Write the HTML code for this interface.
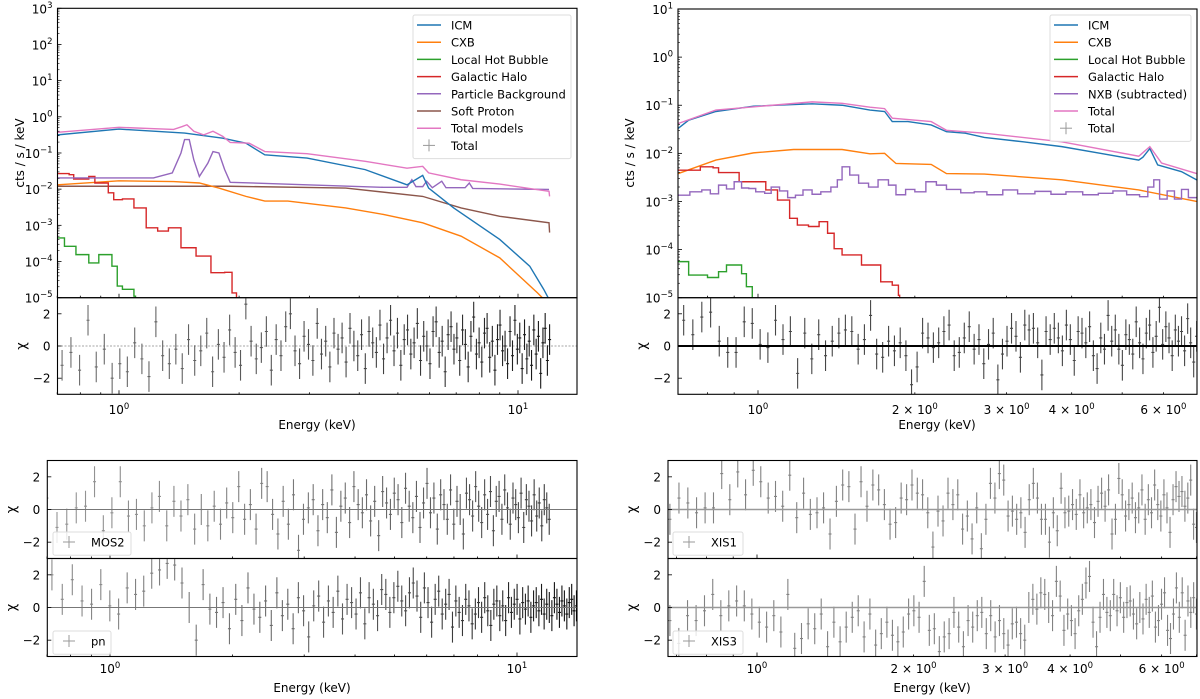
<!DOCTYPE html>
<html><head><meta charset="utf-8">
<style>
html,body{margin:0;padding:0;background:#fff;}
svg{display:block;font-family:"DejaVu Sans","Liberation Sans",sans-serif;}
</style></head>
<body>
<svg id="chart" width="1200" height="699" viewBox="0 0 1200 699" xmlns="http://www.w3.org/2000/svg"></svg>
<script>
// ===== DATA: top-left (XMM) model components: energies (keV) and log10 flux =====
const tlIcmE = [0.70,1.0,1.46,1.82,2.08,2.32,2.96,4.14,5.27,5.77,5.97,6.9,9.0,10.7,11.6,11.9];
const tlIcmL = [-0.50,-0.34,-0.45,-0.59,-0.73,-1.05,-1.14,-1.46,-1.88,-1.62,-1.97,-2.52,-3.39,-4.13,-4.77,-5.0];
const tlCxbE = [0.70,1.0,1.37,1.59,1.78,2.08,2.32,2.65,3.7,4.6,5.77,7.2,9.0,11.2,11.5];
const tlCxbL = [-1.88,-1.77,-1.79,-1.83,-1.97,-2.2,-2.33,-2.33,-2.52,-2.70,-2.93,-3.30,-3.9,-4.87,-5.0];
const tlLhbE = [0.70,0.73,0.78,0.84,0.89,0.93,0.96,0.99,1.02,1.09,1.10];
const tlLhbL = [-3.35,-3.58,-3.81,-4.04,-3.81,-3.81,-4.13,-4.68,-4.77,-4.96,-5.0];
const tlHaloE = [0.70,0.75,0.77,0.84,0.87,0.94,0.97,1.02,1.09,1.17,1.25,1.33,1.43,1.56,1.70,1.84,1.92,1.97];
const tlHaloL = [-1.57,-1.60,-1.72,-1.65,-1.83,-2.10,-2.29,-2.27,-2.52,-3.07,-3.16,-3.07,-3.62,-3.85,-4.31,-4.30,-4.87,-5.0];
const tlPbE = [0.70,1.22,1.36,1.43,1.46,1.50,1.54,1.59,1.67,1.72,1.78,1.84,1.90,4.6,5.27,5.42,5.55,5.77,5.9,6.1,6.44,6.6,7.37,7.55,7.7,11.96];
const tlPbL = [-1.69,-1.69,-1.55,-1.00,-0.63,-0.63,-1.19,-1.65,-1.28,-0.96,-1.00,-1.46,-1.81,-1.95,-1.95,-1.74,-1.93,-1.93,-1.78,-1.96,-1.78,-1.96,-1.96,-1.83,-1.98,-2.01];
const tlSpE = [0.70,1.90,3.7,5.77,7.2,9.0,11.96,12.0];
const tlSpL = [-1.92,-1.92,-1.97,-2.2,-2.52,-2.75,-2.93,-3.2];
const tlTotE = [0.70,1.0,1.37,1.44,1.48,1.54,1.63,1.72,1.82,1.90,2.12,2.32,2.96,4.14,5.27,5.77,5.97,7.2,9.0,11.96,12.0];
const tlTotL = [-0.43,-0.29,-0.35,-0.27,-0.22,-0.40,-0.50,-0.40,-0.54,-0.71,-0.73,-0.96,-1.02,-1.23,-1.42,-1.37,-1.55,-1.74,-1.86,-2.06,-2.2];

// ===== DATA: top-right (Suzaku) model components =====
const trIcmE = [0.703,0.736,0.83,0.98,1.27,1.45,1.64,1.75,1.81,1.94,2.15,2.30,2.50,2.72,3.23,3.83,4.54,5.38,5.48,5.65,5.85,6.5,6.95];
const trIcmL = [-1.48,-1.31,-1.13,-1.02,-0.97,-1.00,-1.10,-1.13,-1.34,-1.34,-1.41,-1.55,-1.58,-1.67,-1.76,-1.86,-2.00,-2.14,-2.08,-1.90,-2.24,-2.38,-2.55];
const trTotE = [0.703,0.83,1.27,1.45,1.64,1.75,1.81,2.15,2.30,2.72,3.83,5.38,5.65,5.95,6.95];
const trTotL = [-1.38,-1.10,-0.93,-0.96,-1.04,-1.07,-1.27,-1.34,-1.52,-1.58,-1.76,-2.06,-1.86,-2.20,-2.42];
const trCxbE = [0.703,0.83,0.98,1.17,1.45,1.64,1.75,1.84,2.15,2.30,2.72,3.83,5.38,6.95];
const trCxbL = [-2.42,-2.14,-1.99,-1.92,-1.92,-2.01,-2.00,-2.21,-2.23,-2.42,-2.43,-2.55,-2.76,-3.0];
const trLhbE = [0.703,0.736,0.80,0.84,0.87,0.90,0.93,0.95,0.975];
const trLhbL = [-4.25,-4.53,-4.58,-4.46,-4.32,-4.32,-4.50,-4.77,-5.0];
const trHaloE = [0.703,0.775,0.82,0.84,0.90,0.92,1.035,1.09,1.15,1.19,1.25,1.31,1.36,1.40,1.45,1.58,1.72,1.81,1.86,1.87];
const trHaloL = [-2.35,-2.28,-2.30,-2.40,-2.40,-2.59,-2.76,-2.97,-3.35,-3.49,-3.52,-3.42,-3.66,-3.98,-4.11,-4.32,-4.67,-4.74,-4.95,-5.0];
const trNxbE = [0.703,0.74,0.78,0.81,0.84,0.87,0.90,0.93,0.96,0.99,1.03,1.06,1.10,1.14,1.18,1.22,1.27,1.32,1.38,1.42,1.45,1.50,1.56,1.63,1.70,1.78,1.84,1.92,2.0,2.10,2.20,2.30,2.45,2.60,2.75,2.95,3.15,3.40,3.65,3.9,4.2,4.5,4.8,5.1,5.4,5.6,5.75,5.9,6.1,6.3,6.5,6.7,6.95];
const trNxbL = [-2.87,-2.80,-2.76,-2.84,-2.66,-2.74,-2.59,-2.72,-2.73,-2.80,-2.83,-2.70,-2.78,-2.92,-2.87,-2.76,-2.85,-2.80,-2.70,-2.55,-2.28,-2.45,-2.62,-2.70,-2.55,-2.66,-2.86,-2.75,-2.80,-2.59,-2.66,-2.75,-2.82,-2.80,-2.86,-2.76,-2.84,-2.79,-2.85,-2.80,-2.86,-2.83,-2.78,-2.86,-2.90,-2.70,-2.55,-2.95,-2.78,-2.95,-2.75,-2.92,-2.93];

// ===== DATA: residuals (chi) =====
const tlRes = [-1.2,-0.4,-1.5,1.6,-1.3,-0.2,-2.0,-1.1,-1.6,0.2,-0.8,-1.9,1.5,-0.6,-1.1,-0.2,-1.4,0.4,-0.9,-0.3,0.8,-1.6,0.1,-0.7,1.0,-0.4,-1.2,2.6,0.3,-0.8,-0.1,0.9,-1.5,0.4,-0.6,1.2,2.0,-0.3,-1.1,0.6,0.1,-0.9,1.4,-0.5,0.3,-1.3,0.8,-0.2,0.5,-1.0,1.1,0.0,-0.6,0.7,-1.4,0.9,0.2,-0.4,1.3,-0.8,0.5,1.6,-0.3,0.8,-1.2,0.4,1.0,-0.5,0.2,1.4,-0.9,0.6,0.0,-1.1,0.9,1.5,-0.4,0.3,-1.6,0.7,1.2,-0.2,0.5,-0.9,1.0,0.1,-1.3,0.6,1.8,-0.5,0.2,-1.0,0.8,1.1,-0.7,0.3,-1.5,0.4,1.3,-0.3,0.0,-1.1,0.9,-0.6,1.6,-0.2,0.5,-1.4,0.7,-0.8,0.3,-1.2,1.0,-0.5,0.6,-1.7,0.2,1.1,-0.9,0.4];
const trRes = [1.6,0.7,1.8,2.1,0.3,-0.4,-0.4,1.5,1.4,0.1,-0.1,1.6,0.4,0.9,-1.7,0.8,-0.8,0.7,-0.6,0.3,0.8,1.0,0.9,-0.2,0.4,1.9,-0.5,-0.7,0.3,-0.3,0.2,-0.6,-2.4,-1.3,0.8,0.5,-0.1,0.2,0.9,1.3,-0.6,-0.4,0.5,1.2,-0.2,0.4,-1.1,0.1,0.8,-2.1,-0.5,0.3,1.1,0.6,-0.7,1.3,1.0,1.1,0.2,-1.8,0.9,0.4,1.1,0.5,-0.3,1.3,0.4,-0.9,0.9,0.8,0.2,1.2,-0.6,-1.4,0.5,-0.2,1.9,0.3,1.0,-0.2,-1.2,0.7,0.4,-0.5,1.5,0.2,-0.8,0.8,1.3,-0.4,0.6,2.4,0.1,1.2,0.5,-0.6,1.0,0.3,0.9,-0.3,1.7,0.2,-1.0,0.6];
const mosRes = [0.7,-1.1,-0.9,0.1,0.2,1.7,-1.3,-0.2,1.7,-0.4,-0.3,-1.0,0.1,0.8,-1.0,0.5,-0.4,0.6,-1.2,0.0,-1.0,0.2,-0.9,0.4,-0.5,1.4,-0.6,0.3,-1.2,1.6,1.4,-0.3,-1.5,0.5,-0.9,0.9,-2.5,-0.6,0.1,0.6,-1.3,0.3,-0.5,1.2,-1.4,0.2,0.7,-0.8,1.4,0.3,-0.2,0.9,-0.7,0.5,-1.6,1.1,0.4,-0.3,1.0,0.6,-0.8,1.3,0.2,-0.5,0.8,-1.1,0.4,1.6,-0.2,0.7,-1.2,0.9,0.3,-0.6,1.2,-0.9,0.5,0.0,-1.5,1.0,0.6,-0.4,1.4,0.2,-0.8,0.9,-0.3,1.1,-1.3,0.5,0.8,-0.6,1.2,0.1,-0.9,0.7,0.3,-0.5,1.0,-1.1,0.6,0.2,-0.7,0.9,-0.4,0.4,-1.0,0.6,0.1,-0.6];
const pnRes = [2.0,0.5,1.7,0.4,0.2,1.4,0.1,-0.4,1.2,0.8,1.0,2.1,2.3,2.7,2.6,1.5,0.0,-2.0,1.4,-0.1,-0.3,0.3,-1.3,0.5,-0.8,1.2,-0.1,-0.6,0.4,-1.1,0.9,-0.5,0.2,-1.3,0.6,-0.2,-1.8,0.1,0.7,-0.9,0.4,-0.3,1.0,-0.7,0.5,0.3,-0.4,0.9,-1.0,0.6,0.2,-0.5,1.1,0.8,-0.3,0.6,1.3,0.4,-0.2,0.9,1.5,0.7,-0.6,1.2,0.3,-0.9,0.5,1.0,-0.4,0.2,0.8,-1.2,0.4,-0.3,-0.8,0.5,0.1,-1.0,-0.4,0.3,-0.6,0.6,-0.2,-1.1,0.2,0.4,-0.5,0.1,-0.8,0.6,-0.3,0.2,0.5,-0.7,0.3,-0.1,0.4,-0.6,0.1,0.3,-0.2,0.5,-0.4,0.2,0.0,-0.5,0.6,0.2,-0.3,0.4,0.1,-0.4,0.3,0.5,-0.2,0.1];
const xis1Res = [-0.6,0.7,0.4,-0.2,0.1,0.1,2.2,0.6,2.3,0.9,2.4,1.7,0.7,0.8,0.2,2.1,-0.5,1.0,-0.3,-0.2,0.1,-1.5,0.5,1.5,1.4,-1.2,1.7,0.2,1.5,1.2,0.3,-0.9,-0.8,0.7,0.6,1.5,1.0,0.9,-0.2,-2.3,-0.1,-0.7,1.0,0.3,0.9,-1.2,-0.4,-1.8,0.1,-2.4,-0.6,1.6,0.7,2.2,1.8,-0.4,-0.1,-0.6,-0.2,-1.4,0.6,1.6,0.7,-0.6,-0.6,-2.0,-0.2,-1.3,1.3,-0.2,-0.1,0.3,-0.3,0.9,-0.2,0.1,0.3,-0.8,0.5,1.0,0.2,1.2,-1.5,-0.6,1.9,0.9,-0.4,0.3,0.7,-0.5,0.1,1.2,-0.6,0.6,-0.2,1.5,0.3,-0.4,0.9,0.1,-1.4,0.6,1.4,0.8,1.1,0.2,0.7,1.8,-0.9,-1.1];
const xis3Res = [-0.8,-2.2,-0.5,-0.8,-0.2,0.8,-0.5,0.1,0.4,0.1,-0.4,-0.9,-1.2,-0.5,-1.5,0.8,-2.5,-1.9,-1.0,-1.3,-0.4,-2.4,-0.9,-2.1,-1.2,-0.6,-0.2,-1.8,-0.4,-2.3,-1.6,-0.9,-1.7,-2.1,-1.5,-0.4,-0.2,-0.6,1.6,-1.4,-1.3,-2.7,-1.8,-1.6,-0.3,-1.2,-2.4,-0.8,-1.2,-0.5,-0.3,-1.6,-0.5,-1.8,-0.8,-1.6,-2.3,-1.0,-0.9,-1.6,-2.0,0.0,0.5,-0.1,0.9,0.8,0.0,-0.5,1.6,0.7,-1.4,-0.4,-0.8,-1.6,-0.2,0.5,1.5,1.9,-0.9,-2.4,-0.6,0.8,-0.3,-0.5,0.8,-0.2,0.6,-0.6,0.3,0.4,-0.4,-1.0,0.0,-0.7,0.5,-0.3,0.7,-1.2,-0.8,0.2,0.9,-1.4,-1.9,-0.4,1.2,-0.6,0.9,-1.7,0.4,-0.3,0.6,-0.4];
const resErr = 0.95;

// ===== tick labels =====
const tlYTicks = [3,2,1,0,-1,-2,-3,-4,-5];
const trYTicks = [1,0,-1,-2,-3,-4,-5];
const resTicks = [2,0,-2];
const xisTickVals = [2,3,4,6];

// ===== rendering =====
const svg = document.getElementById('chart');
const NS = 'http://www.w3.org/2000/svg';
const FS = 12;
function mk(tag, attrs, parent){
  const n = document.createElementNS(NS, tag);
  for (const k in attrs) n.setAttribute(k, attrs[k]);
  (parent||svg).appendChild(n);
  return n;
}
const C = {icm:'#1f77b4',cxb:'#ff7f0e',lhb:'#2ca02c',halo:'#d62728',pb:'#9467bd',sp:'#8c564b',tot:'#e377c2'};
let clipId = 0;

function makeAxes(p){
  const g = mk('g',{});
  
  
  const id = 'clip'+(clipId++);
  const cp = mk('clipPath',{id:id},g);
  mk('rect',{x:p.x0,y:p.y0,width:p.x1-p.x0,height:p.y1-p.y0},cp);
  const inner = mk('g',{'clip-path':'url(#'+id+')'},g);
  p.g = g; p.inner = inner;
  p.sx = E => p.xOne + Math.log10(E)*p.dec;
  return p;
}
function frame(p){
  const r = mk('rect',{x:p.x0,y:p.y0,width:p.x1-p.x0,height:p.y1-p.y0,fill:'none',stroke:'#000','stroke-width':1.1},p.g);
  
  
}
function xTicks(p, labels, style){
  for (let k=-1;k<=1;k++){
    for (let m=1;m<10;m++){
      const E = m*Math.pow(10,k);
      const x = p.sx(E);
      if (x < p.x0-0.5 || x > p.x1+0.5) continue;
      const len = m===1?4:2;
      mk('line',{x1:x,x2:x,y1:p.y1,y2:p.y1-len,stroke:'#000','stroke-width':0.8},p.g);
      if (labels){
        let txt = null;
        if (m===1 && (k===0||k===1)) txt = ['10', String(k)];
        else if (style==='xis' && k===0 && xisTickVals.indexOf(m)>=0) txt = [m+' \u00d7 10','0'];
        if (txt){
          const t = mk('text',{x:x,y:p.tickY,'font-size':FS,'text-anchor':'middle',fill:'#000'},p.g);
          
          
          t.appendChild(document.createTextNode(txt[0]));
          const s = mk('tspan',{dy:-5,'font-size':8.5},t);
          s.textContent = txt[1];
        }
      }
    }
  }
}
function logYAxis(p, ticks){
  p.sy = L => p.y0 + (p.topExp - L)*p.ppd;
  ticks.forEach(L=>{
    const y = p.sy(L);
    mk('line',{x1:p.x0,x2:p.x0+4,y1:y,y2:y,stroke:'#000','stroke-width':0.8},p.g);
    for (let m=2;m<10;m++){
      const ym = p.sy(L+Math.log10(m));
      if (ym>p.y0 && ym<p.y1) mk('line',{x1:p.x0,x2:p.x0+2,y1:ym,y2:ym,stroke:'#000','stroke-width':0.6},p.g);
    }
    const t = mk('text',{x:p.x0-5,y:y+5,'font-size':FS,'text-anchor':'end',fill:'#000'},p.g);
    
    
    t.appendChild(document.createTextNode('10'));
    const s = mk('tspan',{dy:-5.5,'font-size':8.5},t);
    s.textContent = (L<0?'\u2212':'')+Math.abs(L);
  });
}
function resYAxis(p){
  const h = p.y1-p.y0;
  p.sy = r => (p.y0+p.y1)/2 - r*h/6;
  resTicks.forEach(v=>{
    const y = p.sy(v);
    mk('line',{x1:p.x0,x2:p.x0+4,y1:y,y2:y,stroke:'#000','stroke-width':0.8},p.g);
    const t = mk('text',{x:p.x0-7,y:y+4.5,'font-size':FS,'text-anchor':'end',fill:'#000'},p.g);
    
    
    t.textContent = v<0?'\u2212'+Math.abs(v):String(v);
  });
  const cx = p.x0-36, cy = p.sy(0);
  const ch = mk('text',{x:cx,y:cy,'font-size':13,'text-anchor':'middle',transform:'rotate(-90 '+cx+' '+cy+')',dy:4,fill:'#000'},p.g);
  
  
  ch.textContent = '\u03c7';
}
function series(p, Es, Ls, color, step, name){
  let d = '';
  Es.forEach((E,i)=>{
    const x = p.sx(E), y = p.sy(Ls[i]);
    if (i===0) d += 'M'+x+' '+y;
    else if (step) d += 'H'+x+'V'+y;
    else d += 'L'+x+' '+y;
  });
  const path = mk('path',{d:d,fill:'none',stroke:color,'stroke-width':1.4},p.inner);
  
  
}
function residuals(p, vals, Emin, Emax, name, grayLo, grayHi){
  const n = vals.length, a = Math.sqrt(Emin), b = Math.sqrt(Emax);
  const g = mk('g',{'stroke-width':1.1},p.inner);
  
  
  vals.forEach((v,i)=>{
    const s = a + (b-a)*i/(n-1);
    const E = s*s, x = p.sx(E), y = p.sy(v);
    const gv = Math.round(grayLo + (grayHi-grayLo)*i/(n-1));
    const col = 'rgb('+gv+','+gv+','+gv+')';
    mk('line',{x1:x,x2:x,y1:p.sy(v-resErr),y2:p.sy(v+resErr),stroke:col},g);
    mk('line',{x1:x-1.5,x2:x+1.5,y1:y,y2:y,stroke:col},g);
  });
}
function zeroLine(p, color, w, dash){
  const l = mk('line',{x1:p.x0,x2:p.x1,y1:p.sy(0),y2:p.sy(0),stroke:color,'stroke-width':w,'stroke-dasharray':dash||'none'},p.inner);
  
  
}
function legend(x,y,w,entries,name){
  const g = mk('g',{});
  
  
  mk('rect',{x:x,y:y,width:w,height:entries.length*17.2+6,fill:'#fff','fill-opacity':0.8,stroke:'#ddd',rx:2},g);
  entries.forEach((e,i)=>{
    const yy = y+10+i*17.2;
    if (e[1]==='cross'){
      mk('line',{x1:x+10,x2:x+22,y1:yy,y2:yy,stroke:'#999','stroke-width':1},g);
      mk('line',{x1:x+16,x2:x+16,y1:yy-6,y2:yy+6,stroke:'#999','stroke-width':1},g);
    } else mk('line',{x1:x+4,x2:x+28,y1:yy,y2:yy,stroke:e[1],'stroke-width':1.5},g);
    const t = mk('text',{x:x+38,y:yy+4.5,'font-size':11.5,fill:'#000'},g);
    
    
    t.textContent = e[0];
  });
}
function text(x,y,s,name,rot){
  const t = mk('text',{x:x,y:y,'font-size':FS,'text-anchor':'middle',fill:'#000'});
  if (rot) t.setAttribute('transform','rotate(-90 '+x+' '+y+')');
  
  
  t.textContent = s;
}

// --- top-left main ---
const TL = makeAxes({name:'xmm-spectrum-panel',x0:57.5,x1:577,y0:8.3,y1:297.7,xOne:119,dec:399,topExp:3,ppd:36.17});
logYAxis(TL, tlYTicks);
series(TL, tlSpE, tlSpL, C.sp, false, 'soft-proton-line');
series(TL, tlCxbE, tlCxbL, C.cxb, false, 'cxb-line');
series(TL, tlLhbE, tlLhbL, C.lhb, true, 'lhb-line');
series(TL, tlHaloE, tlHaloL, C.halo, true, 'halo-line');
series(TL, tlPbE, tlPbL, C.pb, false, 'particle-bkg-line');
series(TL, tlIcmE, tlIcmL, C.icm, false, 'icm-line');
series(TL, tlTotE, tlTotL, C.tot, false, 'total-model-line');
xTicks(TL,false); frame(TL);
legend(413,15,158,[['ICM',C.icm],['CXB',C.cxb],['Local Hot Bubble',C.lhb],['Galactic Halo',C.halo],['Particle Background',C.pb],['Soft Proton',C.sp],['Total models',C.tot],['Total','cross']],'xmm-legend');
text(24,153,'cts / s / keV','y-axis-title',true);

// --- top-left residual ---
const TLR = makeAxes({name:'xmm-residual-panel',x0:57.5,x1:577,y0:297.7,y1:394.3,xOne:119,dec:399,tickY:414});
resYAxis(TLR);
zeroLine(TLR,'#888',0.8,'2,1.5');
residuals(TLR, tlRes, 0.72, 12.0, 'xmm-residual-points', 110, 20);
xTicks(TLR,true); frame(TLR);
text(317,429,'Energy (keV)','x-axis-title');

// --- top-right main ---
const TR = makeAxes({name:'suzaku-spectrum-panel',x0:678,x1:1197,y0:9,y1:297.7,xOne:758,dec:521,topExp:1,ppd:48.12});
logYAxis(TR, trYTicks);
series(TR, trCxbE, trCxbL, C.cxb, false, 'cxb-line');
series(TR, trLhbE, trLhbL, C.lhb, true, 'lhb-line');
series(TR, trHaloE, trHaloL, C.halo, true, 'halo-line');
series(TR, trNxbE, trNxbL, C.pb, true, 'nxb-line');
series(TR, trIcmE, trIcmL, C.icm, false, 'icm-line');
series(TR, trTotE, trTotL, C.tot, false, 'total-model-line');
xTicks(TR,false); frame(TR);
legend(1050,15,141,[['ICM',C.icm],['CXB',C.cxb],['Local Hot Bubble',C.lhb],['Galactic Halo',C.halo],['NXB (subtracted)',C.pb],['Total',C.tot],['Total','cross']],'suzaku-legend');
text(634,153,'cts / s / keV','y-axis-title',true);

// --- top-right residual ---
const TRR = makeAxes({name:'suzaku-residual-panel',x0:678,x1:1197,y0:297.7,y1:394.3,xOne:758,dec:521,tickY:414});
resYAxis(TRR);
residuals(TRR, trRes, 0.72, 6.95, 'suzaku-residual-points', 70, 70);
zeroLine(TRR,'#000',2);
xTicks(TRR,true,'xis'); frame(TRR);
text(937,429,'Energy (keV)','x-axis-title');

// --- bottom-left ---
const MOS = makeAxes({name:'mos2-residual-panel',x0:47.3,x1:577,y0:460.5,y1:558.5,xOne:110,dec:407});
resYAxis(MOS);
residuals(MOS, mosRes, 0.70, 12.0, 'mos2-residual-points', 150, 60);
zeroLine(MOS,'#777',1);
xTicks(MOS,false); frame(MOS);
legend(53,532,78,[['MOS2','cross']],'mos2-legend');
const PN = makeAxes({name:'pn-residual-panel',x0:47.3,x1:577,y0:558.5,y1:656.5,xOne:110,dec:407,tickY:673});
resYAxis(PN);
residuals(PN, pnRes, 0.72, 14.0, 'pn-residual-points', 140, 10);
zeroLine(PN,'#777',1);
xTicks(PN,true); frame(PN);
legend(53,631,58,[['pn','cross']],'pn-legend');
text(312,692,'Energy (keV)','x-axis-title');

// --- bottom-right ---
const X1 = makeAxes({name:'xis1-residual-panel',x0:668,x1:1197,y0:460.5,y1:558.5,xOne:757,dec:520});
resYAxis(X1);
residuals(X1, xis1Res, 0.68, 7.0, 'xis1-residual-points', 130, 130);
zeroLine(X1,'#999',1.5);
xTicks(X1,false); frame(X1);
legend(673,532,70,[['XIS1','cross']],'xis1-legend');
const X3 = makeAxes({name:'xis3-residual-panel',x0:668,x1:1197,y0:558.5,y1:656.5,xOne:757,dec:520,tickY:673});
resYAxis(X3);
residuals(X3, xis3Res, 0.68, 7.0, 'xis3-residual-points', 130, 130);
zeroLine(X3,'#999',1.5);
xTicks(X3,true,'xis'); frame(X3);
legend(673,631,70,[['XIS3','cross']],'xis3-legend');
text(932,692,'Energy (keV)','x-axis-title');
</script>
</body></html>
